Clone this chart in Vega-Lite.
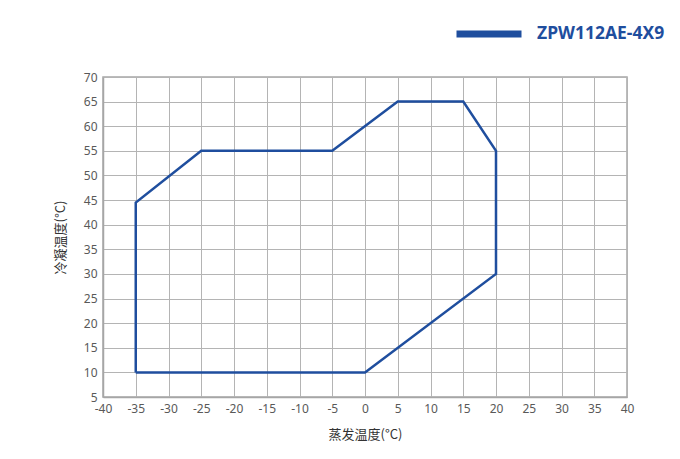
{
  "$schema": "https://vega.github.io/schema/vega-lite/v6.json",
  "autosize": "none",
  "width": 524,
  "height": 320,
  "padding": {"left": 103, "top": 77, "right": 53, "bottom": 62},
  "background": "white",
  "config": {
    "font": "Noto Sans CJK SC",
    "view": {"stroke": "#a6a6a6", "strokeWidth": 1.5},
    "axis": {"gridColor": "#b4b4b4", "gridWidth": 1, "domainColor": "#a6a6a6", "domainWidth": 1.5, "ticks": false, "labelColor": "#595959", "labelFontSize": 12, "labelFont": "Noto Sans", "titleFontSize": 13, "titleFontWeight": "normal", "titleColor": "#333333"}
  },
  "data": {"values": [
    {"order": 1, "evap": -35, "cond": 10, "series": "ZPW112AE-4X9"},
    {"order": 2, "evap": -35, "cond": 44.5, "series": "ZPW112AE-4X9"},
    {"order": 3, "evap": -25, "cond": 55, "series": "ZPW112AE-4X9"},
    {"order": 4, "evap": -5, "cond": 55, "series": "ZPW112AE-4X9"},
    {"order": 5, "evap": 5, "cond": 65, "series": "ZPW112AE-4X9"},
    {"order": 6, "evap": 15, "cond": 65, "series": "ZPW112AE-4X9"},
    {"order": 7, "evap": 20, "cond": 55, "series": "ZPW112AE-4X9"},
    {"order": 8, "evap": 20, "cond": 30, "series": "ZPW112AE-4X9"},
    {"order": 9, "evap": 0, "cond": 10, "series": "ZPW112AE-4X9"},
    {"order": 10, "evap": -35, "cond": 10, "series": "ZPW112AE-4X9"}
  ]},
  "mark": {"type": "line", "strokeWidth": 2.5, "strokeJoin": "miter"},
  "encoding": {
    "x": {"field": "evap", "type": "quantitative", "title": "蒸发温度(°C)",
      "scale": {"domain": [-40, 40], "nice": false},
      "axis": {"values": [-40,-35,-30,-25,-20,-15,-10,-5,0,5,10,15,20,25,30,35,40], "labelExpr": "'' + datum.value", "labelPadding": 6, "titlePadding": 14, "labelFlush": false}},
    "y": {"field": "cond", "type": "quantitative", "title": "冷凝温度(°C)",
      "scale": {"domain": [5, 70], "nice": false, "zero": false},
      "axis": {"values": [5,10,15,20,25,30,35,40,45,50,55,60,65,70], "labelPadding": 6, "titlePadding": 16, "labelFlush": false}},
    "order": {"field": "order", "type": "quantitative"},
    "color": {"field": "series", "type": "nominal", "scale": {"range": ["#1f4e9e"]},
      "legend": {"title": null, "orient": "none", "legendX": 350, "legendY": -79, "symbolType": "stroke", "symbolStrokeWidth": 7, "symbolSize": 4225, "labelFontSize": 17.5, "labelFontWeight": "bold", "labelColor": "#1f4e9e", "labelFont": "Noto Sans", "labelOffset": 12}}
  }
}
